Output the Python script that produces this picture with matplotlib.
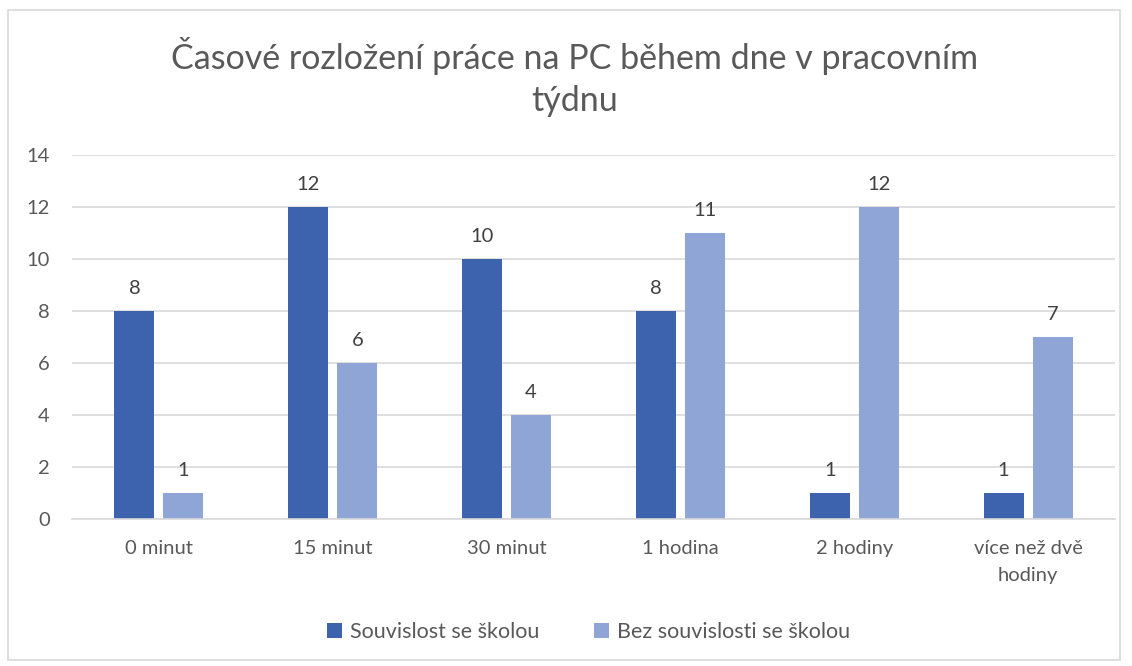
#! /usr/bin/env python3

import matplotlib.pyplot as plt
import numpy as np
from matplotlib.patches import Rectangle

categories = ["0 minut", "15 minut", "30 minut", "1 hodina", "2 hodiny", "více než dvě\nhodiny"]
skola = [8, 12, 10, 8, 1, 1]
bez_skoly = [1, 6, 4, 11, 12, 7]
series_names = ["Souvislost se školou", "Bez souvislosti se školou"]
title = "Časové rozložení práce na PC během dne v pracovním\ntýdnu"

plt.rcParams['font.family'] = ['Lato', 'DejaVu Sans']
text_col = "#595959"

fig = plt.figure(figsize=(11.32, 6.66), dpi=100)
fig.patches.append(Rectangle((8 / 1132, 6 / 666), 1112 / 1132, 650 / 666, transform=fig.transFigure,
                             fill=False, edgecolor="#d9d9d9", linewidth=1.2))
ax = fig.add_axes([72 / 1132, 1 - 519 / 666, 1043 / 1132, 364 / 666])

x = np.arange(len(categories))
w = 0.23
b1 = ax.bar(x - w / 2 - 0.026, skola, w, color="#3d63ae", label=series_names[0])
b2 = ax.bar(x + w / 2 + 0.026, bez_skoly, w, color="#8fa5d6", label=series_names[1])
for bars in (b1, b2):
    ax.bar_label(bars, padding=10, fontsize=14.5, color="#404040")

ax.set_xlim(-0.5, len(categories) - 0.5)
ax.set_ylim(0, 14)
ax.set_yticks(range(0, 15, 2))
ax.set_xticks(x)
ax.set_xticklabels(categories, linespacing=1.75)
ax.grid(axis="y", color="#d9d9d9", linewidth=1.2)
ax.set_axisbelow(True)
for s in ["top", "right", "left"]:
    ax.spines[s].set_visible(False)
ax.spines["bottom"].set_color("#d9d9d9")
ax.spines["bottom"].set_linewidth(1.2)
ax.tick_params(length=0, labelsize=14.5, colors=text_col)
ax.tick_params(axis="x", pad=15)
ax.tick_params(axis="y", pad=16)

fig.text(0.508, 1 - 77 / 666, title, ha="center", va="center", fontsize=24.5, color=text_col,
         linespacing=1.35)
fig.legend(loc="center", bbox_to_anchor=(0.52, 1 - 632 / 666), ncol=2, frameon=False,
           fontsize=15.5, labelcolor=text_col, handlelength=0.7, handleheight=0.7,
           handletextpad=0.4, columnspacing=2.5)

plt.savefig("out.png", dpi=100)
